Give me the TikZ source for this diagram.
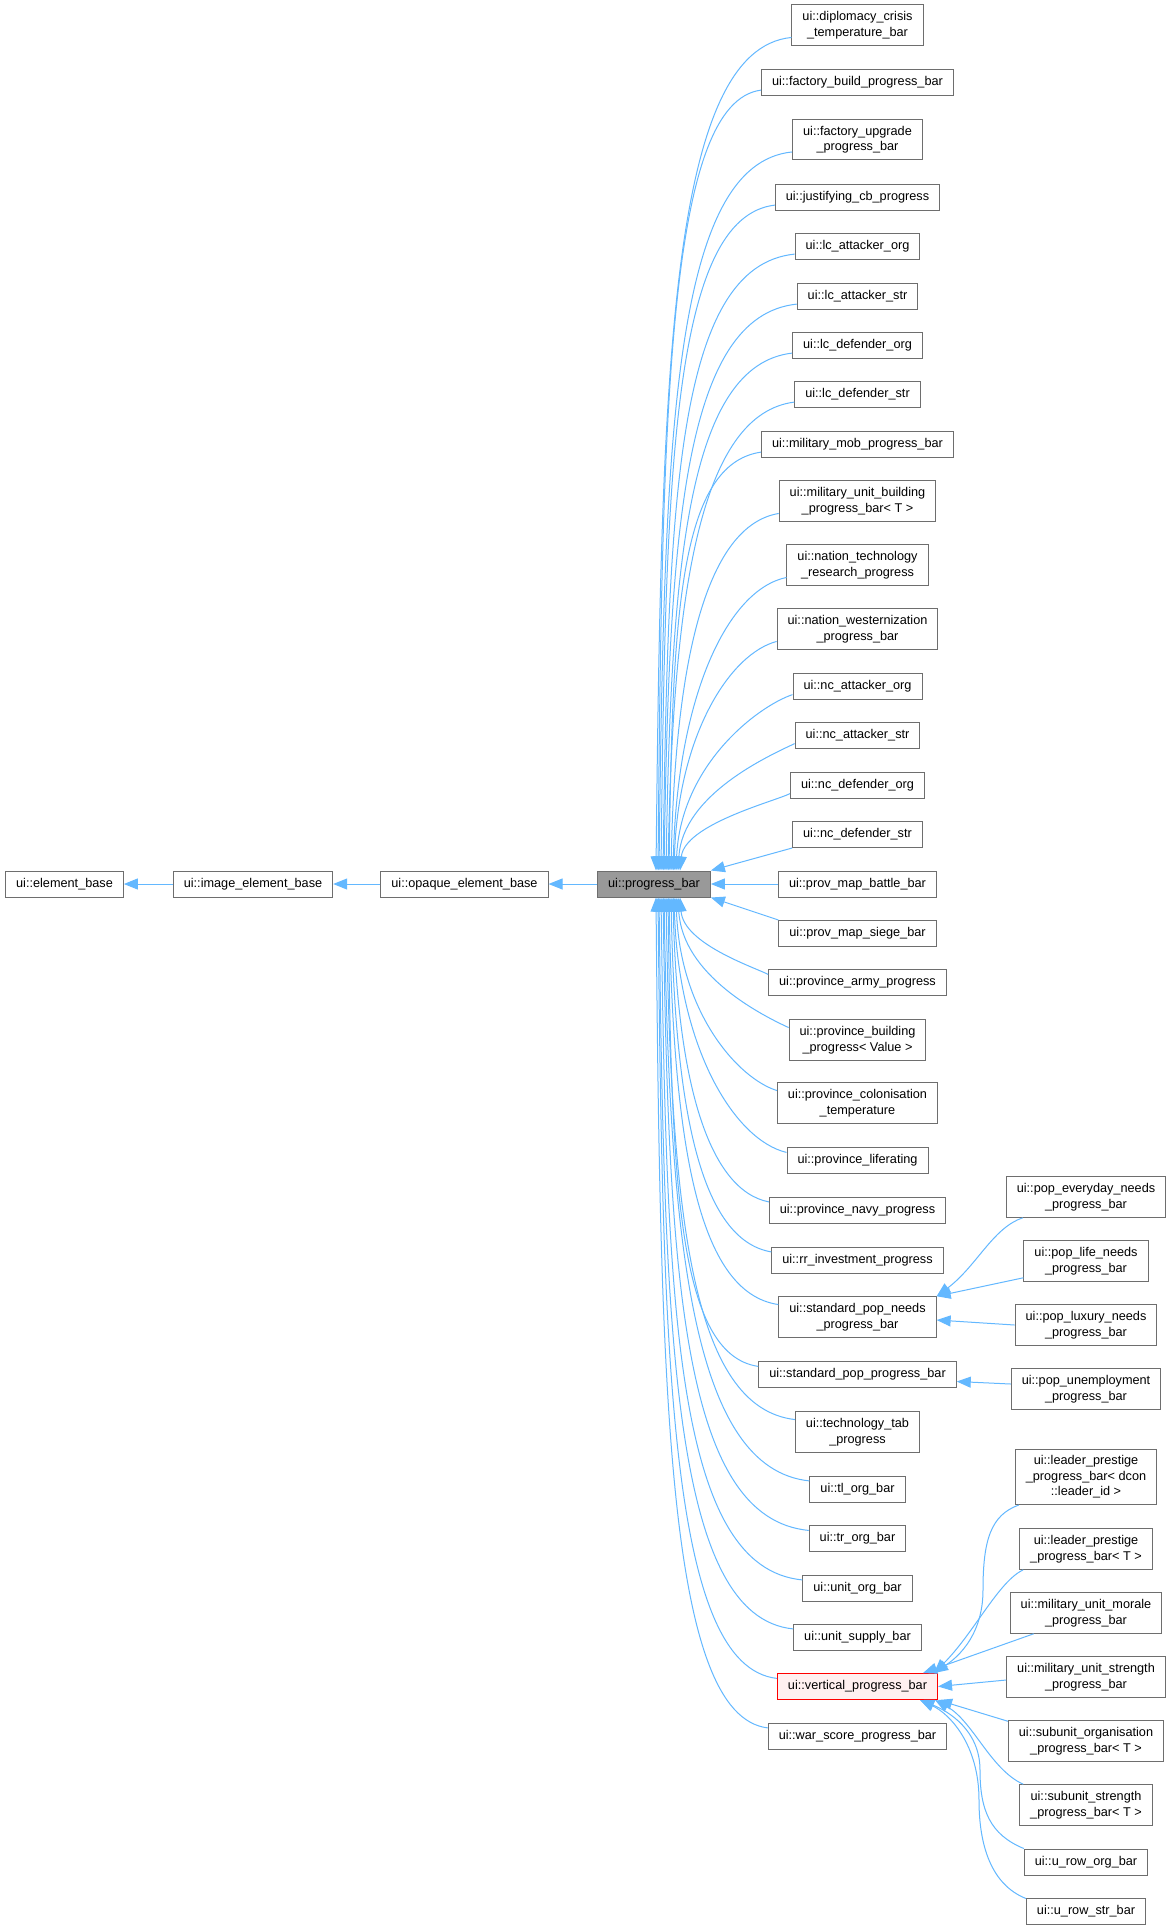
\documentclass[tikz,border=0pt]{standalone}
\usepackage{fontspec}
\setmainfont{Liberation Sans}
\usetikzlibrary{arrows.meta,calc}
\definecolor{eblue}{HTML}{63B8FF}
\definecolor{nborder}{HTML}{6E6E6E}
\definecolor{pbfill}{HTML}{999999}
\definecolor{vfill}{HTML}{FFF0F0}
\tikzset{
 cls/.style={draw=nborder, fill=white, line width=1pt, inner xsep=10.5pt, inner ysep=1pt,
   minimum height=26pt, align=center, font=\fontsize{12.7}{15.5}\selectfont},
 two/.style={minimum height=40.5pt},
 three/.style={minimum height=55pt},
 edge/.style={draw=eblue, line width=1pt, -{Triangle[length=14pt,width=11pt]}},
}
\newcommand\upE[2]{%
 \draw[edge] let \p1=($(#1.west)!0.6!(#1.south west)$), \p2=(pb.north),
   \n1={\x1-\x2-#2}, \n2={\y1-\y2} in
   (\p1) .. controls ({\x1-min(0.9*\n1,0.2*\n2)},{\y1-min(0.1*\n2,12)}) and ({\x2+#2+0.04*\n1},{\y2+0.6*\n2}) .. ({\x2+#2},\y2);}
\newcommand\dnE[2]{%
 \draw[edge] let \p1=($(#1.west)!0.6!(#1.north west)$), \p2=(pb.south),
   \n1={\x1-\x2-#2}, \n2={\y2-\y1} in
   (\p1) .. controls ({\x1-min(0.9*\n1,0.2*\n2)},{\y1+min(0.1*\n2,12)}) and ({\x2+#2+0.04*\n1},{\y2-0.6*\n2}) .. ({\x2+#2},\y2);}
\begin{document}
\begin{tikzpicture}[x=1pt,y=-1pt]
\fill[white] (0,0) rectangle (1172,1930);
\useasboundingbox (0,0) rectangle (1172,1930);
% left chain
\node[cls] (eb) at (64.5,884) {ui::element\_base};
\node[cls] (ieb) at (253,884) {ui::image\_element\_base};
\node[cls] (oeb) at (464.5,884) {ui::opaque\_element\_base};
\node[cls, fill=pbfill] (pb) at (654,884) {ui::progress\_bar};
% middle column
\node[cls,two] (m1) at (857.5,25) {ui::diplomacy\_crisis\\\_temperature\_bar};
\node[cls] (m2) at (857.5,82) {ui::factory\_build\_progress\_bar};
\node[cls,two] (m3) at (857.5,139.5) {ui::factory\_upgrade\\\_progress\_bar};
\node[cls] (m4) at (857.5,197) {ui::justifying\_cb\_progress};
\node[cls] (m5) at (857.5,246) {ui::lc\_attacker\_org};
\node[cls] (m6) at (857.5,296) {ui::lc\_attacker\_str};
\node[cls] (m7) at (857.5,345) {ui::lc\_defender\_org};
\node[cls] (m8) at (857.5,394) {ui::lc\_defender\_str};
\node[cls] (m9) at (857.5,444) {ui::military\_mob\_progress\_bar};
\node[cls,two] (m10) at (857.5,501) {ui::military\_unit\_building\\\_progress\_bar< T >};
\node[cls,two] (m11) at (857.5,565) {ui::nation\_technology\\\_research\_progress};
\node[cls,two] (m12) at (857.5,629) {ui::nation\_westernization\\\_progress\_bar};
\node[cls] (m13) at (857.5,686.5) {ui::nc\_attacker\_org};
\node[cls] (m14) at (857.5,735.5) {ui::nc\_attacker\_str};
\node[cls] (m15) at (857.5,785.5) {ui::nc\_defender\_org};
\node[cls] (m16) at (857.5,834.5) {ui::nc\_defender\_str};
\node[cls] (m17) at (857.5,884) {ui::prov\_map\_battle\_bar};
\node[cls] (m18) at (857.5,933.5) {ui::prov\_map\_siege\_bar};
\node[cls] (m19) at (857.5,982.5) {ui::province\_army\_progress};
\node[cls,two] (m20) at (857.5,1040) {ui::province\_building\\\_progress< Value >};
\node[cls,two] (m21) at (857.5,1103) {ui::province\_colonisation\\\_temperature};
\node[cls] (m22) at (857.5,1160.5) {ui::province\_liferating};
\node[cls] (m23) at (857.5,1210) {ui::province\_navy\_progress};
\node[cls] (m24) at (857.5,1260) {ui::rr\_investment\_progress};
\node[cls,two] (m25) at (857.5,1317) {ui::standard\_pop\_needs\\\_progress\_bar};
\node[cls] (m26) at (857.5,1374.5) {ui::standard\_pop\_progress\_bar};
\node[cls,two] (m27) at (857.5,1432) {ui::technology\_tab\\\_progress};
\node[cls] (m28) at (857.5,1489) {ui::tl\_org\_bar};
\node[cls] (m29) at (857.5,1538.5) {ui::tr\_org\_bar};
\node[cls] (m30) at (857.5,1588) {ui::unit\_org\_bar};
\node[cls] (m31) at (857.5,1637) {ui::unit\_supply\_bar};
\node[cls, draw=red, fill=vfill] (m32) at (857.5,1686.5) {ui::vertical\_progress\_bar};
\node[cls] (m33) at (857.5,1736) {ui::war\_score\_progress\_bar};
% right column
\node[cls,two] (r1) at (1086,1197) {ui::pop\_everyday\_needs\\\_progress\_bar};
\node[cls,two] (r2) at (1086,1261) {ui::pop\_life\_needs\\\_progress\_bar};
\node[cls,two] (r3) at (1086,1325) {ui::pop\_luxury\_needs\\\_progress\_bar};
\node[cls,two] (r4) at (1086,1389) {ui::pop\_unemployment\\\_progress\_bar};
\node[cls,three] (r5) at (1086,1477) {ui::leader\_prestige\\\_progress\_bar< dcon\\::leader\_id >};
\node[cls,two] (r6) at (1086,1549) {ui::leader\_prestige\\\_progress\_bar< T >};
\node[cls,two] (r7) at (1086,1613) {ui::military\_unit\_morale\\\_progress\_bar};
\node[cls,two] (r8) at (1086,1677) {ui::military\_unit\_strength\\\_progress\_bar};
\node[cls,two] (r9) at (1086,1741) {ui::subunit\_organisation\\\_progress\_bar< T >};
\node[cls,two] (r10) at (1086,1805) {ui::subunit\_strength\\\_progress\_bar< T >};
\node[cls] (r11) at (1086,1862) {ui::u\_row\_org\_bar};
\node[cls] (r12) at (1086,1911) {ui::u\_row\_str\_bar};
% left chain edges
\draw[edge] (ieb) -- (eb);
\draw[edge] (oeb) -- (ieb);
\draw[edge] (pb) -- (oeb);
% upper children
\upE{m1}{2}
\upE{m2}{4}
\upE{m3}{5}
\upE{m4}{7}
\upE{m5}{9}
\upE{m6}{10}
\upE{m7}{12}
\upE{m8}{14}
\upE{m9}{15}
\upE{m10}{17}
\upE{m11}{19}
\upE{m12}{20}
\upE{m13}{22}
\upE{m14}{24}
\upE{m15}{26}
\draw[edge] (m16.south west) -- (pb.north east);
\draw[edge] (m17) -- (pb);
\draw[edge] (m18.north west) -- (pb.south east);
% lower children
\dnE{m19}{26}
\dnE{m20}{24}
\dnE{m21}{22}
\dnE{m22}{20}
\dnE{m23}{19}
\dnE{m24}{17}
\dnE{m25}{15}
\dnE{m26}{14}
\dnE{m27}{12}
\dnE{m28}{10}
\dnE{m29}{9}
\dnE{m30}{7}
\dnE{m31}{5}
\dnE{m32}{4}
\dnE{m33}{2}
% standard_pop_needs children
\draw[edge] ([xshift=17pt]r1.south west) .. controls +(-30,10) and +(40,-30) .. (m25.north east);
\draw[edge] ([yshift=4pt]r2.south west) -- (m25.north east);
\draw[edge] (r3.west) -- ([yshift=-3pt]m25.east);
\draw[edge] ([yshift=5pt]r4.west) -- ([yshift=-7pt]m26.east);
% vertical_progress_bar children
\draw[edge] ([xshift=4pt]r5.south west) .. controls +(-28,10) and +(0,-50) .. (983,1590) .. controls +(0,50) and +(18,-12) .. ([xshift=-4pt]m32.north east);
\draw[edge] ([xshift=4pt]r6.south west) .. controls +(-25,12) and +(40,-40) .. ([xshift=-4pt]m32.north east);
\draw[edge] ([xshift=24pt]r7.south west) -- ([xshift=-15pt]m32.north east);
\draw[edge] ([yshift=-3pt]r8.west) -- (m32.east);
\draw[edge] ([yshift=-1pt]r9.north west) -- (m32.south east);
\draw[edge] ([xshift=4pt]r10.north west) .. controls +(-33,-15) and +(38,21) .. ([xshift=-3pt]m32.south east);
\draw[edge] (r11.north west) .. controls +(-34,-14) and +(0,40) .. (980,1770) .. controls +(0,-40) and +(28,11) .. ([xshift=-18pt]m32.south east);
\draw[edge] ([yshift=-1pt]r12.north west) .. controls +(-35,-14) and +(0,45) .. (979,1800) .. controls +(0,-55) and +(30,14) .. ([xshift=-18pt]m32.south east);
\end{tikzpicture}
\end{document}
